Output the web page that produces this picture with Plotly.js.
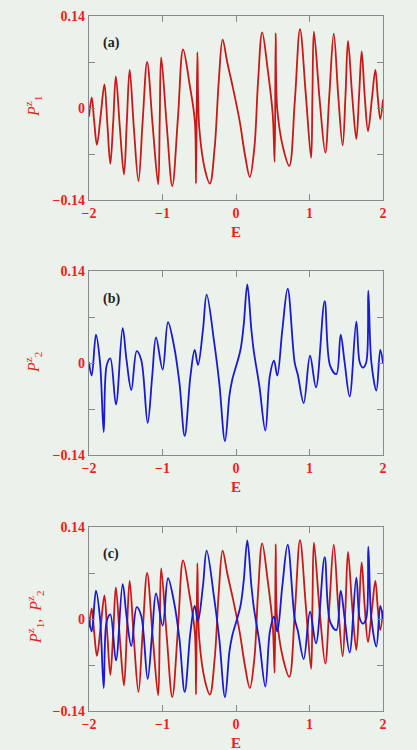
<!DOCTYPE html>
<html>
<head>
<meta charset="utf-8">
<script src="https://cdn.plot.ly/plotly-3.0.1.min.js"></script>
<style>
  html, body { margin: 0; padding: 0; background: #ebf1eb; }
  #chart { width: 417px; height: 750px; }
</style>
</head>
<body>
<div id="chart"></div>
<script>
// P1^z against E (red curve, panels a and c)
const energy1 = [-2.0, -1.963, -1.93, -1.892, -1.84, -1.79, -1.75, -1.71, -1.67, -1.635,
  -1.58, -1.524, -1.485, -1.447, -1.39, -1.327, -1.27, -1.209, -1.135, -1.059,
  -1.038, -1.018, -0.94, -0.867, -0.79, -0.72, -0.63, -0.56, -0.544, -0.526,
  -0.50, -0.42, -0.355, -0.29, -0.235, -0.182, -0.12, -0.05, 0.05, 0.12,
  0.188, 0.25, 0.30, 0.356, 0.43, 0.50, 0.526, 0.540, 0.56, 0.64,
  0.725, 0.80, 0.871, 0.95, 1.022, 1.04, 1.06, 1.14, 1.215, 1.27,
  1.33, 1.39, 1.451, 1.49, 1.524, 1.58, 1.637, 1.675, 1.71, 1.75,
  1.796, 1.85, 1.896, 1.93, 1.963, 2.0];
const p1 = [-0.013, 0.016, -0.02, -0.056, -0.01, 0.036, -0.025, -0.085, -0.02, 0.048,
  -0.03, -0.101, -0.02, 0.058, -0.03, -0.111, -0.02, 0.07, -0.025, -0.116,
  -0.02, 0.077, -0.03, -0.119, -0.015, 0.089, 0.035, -0.02, -0.115, 0.085,
  -0.03, -0.095, -0.115, -0.06, 0.04, 0.104, 0.07, 0.035, -0.02, -0.07,
  -0.105, -0.06, 0.04, 0.115, 0.06, -0.01, -0.082, 0.114, 0.0, -0.06,
  -0.088, 0.01, 0.120, 0.02, -0.076, 0.02, 0.116, 0.01, -0.068, 0.02,
  0.113, 0.02, -0.057, 0.02, 0.102, 0.02, -0.047, 0.02, 0.086, 0.02,
  -0.035, 0.015, 0.058, 0.015, -0.017, 0.013];

// P2^z against E (blue curve, panels b and c)
const energy2 = [-2.0, -1.963, -1.905, -1.85, -1.80, -1.76, -1.71, -1.633, -1.542, -1.49,
  -1.424, -1.351, -1.29, -1.202, -1.14, -1.088, -0.998, -0.925, -0.84, -0.77,
  -0.698, -0.62, -0.562, -0.517, -0.45, -0.399, -0.296, -0.228, -0.150, -0.09,
  -0.054, 0.059, 0.104, 0.154, 0.208, 0.241, 0.318, 0.399, 0.46, 0.517,
  0.562, 0.63, 0.703, 0.798, 0.843, 0.921, 1.007, 1.088, 1.206, 1.28,
  1.365, 1.424, 1.478, 1.546, 1.637, 1.683, 1.724, 1.77, 1.80, 1.842,
  1.91, 1.963, 2.0];
const p2 = [0.001, -0.019, 0.043, 0.001, -0.105, -0.004, 0.007, -0.063, 0.053, 0.005,
  -0.041, 0.018, 0.005, -0.091, -0.02, 0.039, -0.010, 0.062, 0.024, -0.03,
  -0.111, -0.02, 0.020, -0.003, 0.05, 0.104, 0.031, -0.030, -0.119, -0.05,
  -0.027, 0.019, 0.057, 0.1195, 0.052, 0.019, -0.035, -0.103, -0.02, 0.0035,
  -0.019, 0.05, 0.113, 0.001, -0.019, -0.061, 0.011, -0.037, 0.094, -0.004,
  -0.017, 0.043, 0.001, -0.051, 0.063, 0.001, -0.007, 0.0, 0.110, 0.001,
  -0.042, 0.020, 0.0];

const xTicks = [-2, -1, 0, 1, 2];
const xTickText = ['\u22122', '\u22121', '0', '1', '2'];
const yTicks = [-0.14, -0.07, 0, 0.07, 0.14];
const yTickText = ['\u22120.14', '', '0', '', '0.14'];

const RED = '#c81818';
const BLUE = '#1a1ad0';
const LABEL = '#f01e1e';
const serif = 'Liberation Serif, Times New Roman, serif';

const redLine = (xa, ya) => ({
  x: energy1, y: p1, xaxis: xa, yaxis: ya, mode: 'lines',
  line: {color: RED, width: 1.8, shape: 'spline', smoothing: 1}
});
const blueLine = (xa, ya) => ({
  x: energy2, y: p2, xaxis: xa, yaxis: ya, mode: 'lines',
  line: {color: BLUE, width: 1.8, shape: 'spline', smoothing: 1}
});

const data = [
  redLine('x', 'y'),
  blueLine('x2', 'y2'),
  redLine('x3', 'y3'),
  blueLine('x3', 'y3')
];

const xDom = [89 / 417, 383 / 417];
// top and bottom of each panel in pixels
const panels = [[16, 200], [271, 455], [527, 711]];

const xAxis = (anchor) => ({
  domain: xDom, anchor: anchor, range: [-2, 2],
  tickvals: xTicks, ticktext: xTickText,
  ticks: 'inside', ticklen: 6, tickwidth: 1, tickcolor: '#8a8a8a',
  showline: true, linecolor: '#8a8a8a', linewidth: 1.3, mirror: 'ticks',
  showgrid: false, zeroline: false,
  tickfont: {family: serif, size: 14, color: LABEL, weight: 'bold'}
});
const yAxis = (anchor, p) => ({
  domain: [1 - p[1] / 750, 1 - p[0] / 750], anchor: anchor, range: [-0.14, 0.14],
  tickvals: yTicks, ticktext: yTickText,
  ticks: 'inside', ticklen: 6, tickwidth: 1, tickcolor: '#8a8a8a',
  showline: true, linecolor: '#8a8a8a', linewidth: 1.3, mirror: 'ticks',
  showgrid: false, zeroline: false,
  tickfont: {family: serif, size: 14, color: LABEL, weight: 'bold'}
});

const note = (text, x, y, opts) => Object.assign({
  text: text, xref: 'paper', yref: 'paper', x: x / 417, y: 1 - y / 750,
  xanchor: 'center', yanchor: 'middle', showarrow: false,
  font: {family: serif, size: 15, color: LABEL, weight: 'bold'}
}, opts || {});

const annotations = [
  note('<i>P</i><sup>z</sup><sub>1</sub>', 33, 107, {textangle: -90, font: {family: serif, size: 16, color: LABEL}}),
  note('<i>P</i><sup>z</sup><sub>2</sub>', 33, 363, {textangle: -90, font: {family: serif, size: 16, color: LABEL}}),
  note('<i>P</i><sup>z</sup><sub>1</sub>,  <i>P</i><sup>z</sup><sub>2</sub>', 35, 617, {textangle: -90, font: {family: serif, size: 16, color: LABEL}}),
  note('E', 236, 232),
  note('E', 236, 487),
  note('E', 236, 743),
  note('(a)', 111, 43, {font: {family: serif, size: 14, color: '#222', weight: 'bold'}}),
  note('(b)', 111, 299, {font: {family: serif, size: 14, color: '#222', weight: 'bold'}}),
  note('(c)', 111, 554, {font: {family: serif, size: 14, color: '#222', weight: 'bold'}})
];

const layout = {
  width: 417, height: 750,
  margin: {l: 0, r: 0, t: 0, b: 0},
  paper_bgcolor: '#ebf1eb', plot_bgcolor: '#ebf1eb',
  showlegend: false,
  xaxis: xAxis('y'), yaxis: yAxis('x', panels[0]),
  xaxis2: xAxis('y2'), yaxis2: yAxis('x2', panels[1]),
  xaxis3: xAxis('y3'), yaxis3: yAxis('x3', panels[2]),
  annotations: annotations
};

Plotly.newPlot('chart', data, layout, {staticPlot: true});
</script>
</body>
</html>
